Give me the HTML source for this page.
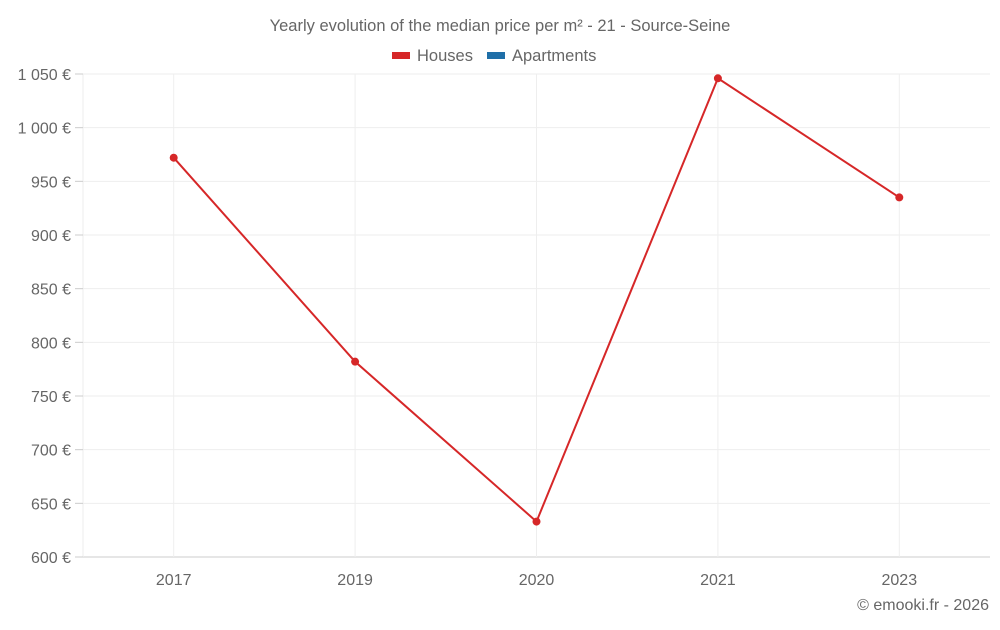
<!DOCTYPE html>
<html><head><meta charset="utf-8"><style>
body{margin:0;background:#fff;font-family:"Liberation Sans",sans-serif;}
svg text{font-family:"Liberation Sans",sans-serif;fill:#666;}
</style></head><body>
<svg width="1000" height="625">
<text x="500" y="31" text-anchor="middle" font-size="16.5">Yearly evolution of the median price per m² - 21 - Source-Seine</text>
<g>
<g><rect x="392" y="52" width="18" height="7" fill="#d62728"/><text x="417" y="61" font-size="16.5">Houses</text></g>
<g><rect x="487" y="52" width="18" height="7" fill="#1f6fa8"/><text x="512" y="61" font-size="16.5">Apartments</text></g>
</g>
<g id="grid"></g><g id="axes"></g><g id="series"></g>
<text x="989" y="610" text-anchor="end" font-size="16">© emooki.fr - 2026</text>
</svg>
<script>
const categories=["2017","2019","2020","2021","2023"];
const housesValues=[972,782,633,1046,935];
const yTicks=[600,650,700,750,800,850,900,950,1000,1050];
const yTickLabels=["600 €","650 €","700 €","750 €","800 €","850 €","900 €","950 €","1 000 €","1 050 €"];
const L=83,R=990,T=74,B=557,yMin=600,yMax=1050;
const NS="http://www.w3.org/2000/svg";
function y(v){return B-(v-yMin)/(yMax-yMin)*(B-T);}
function x(i){const bw=(R-L)/categories.length;return L+bw*(i+0.5);}
function mk(tag,attrs,parent){const e=document.createElementNS(NS,tag);for(const k in attrs)e.setAttribute(k,attrs[k]);document.getElementById(parent).appendChild(e);return e;}
yTicks.forEach((t,i)=>{
 const g=mk("line",{x1:L,x2:R,y1:y(t),y2:y(t),stroke:i==0?"#ccc":"#eee","stroke-width":1},"grid");
 
 
 const tk=mk("line",{x1:L-8,x2:L,y1:y(t),y2:y(t),stroke:"#ccc"},"axes");
 
 
 const tx=mk("text",{x:L-12,y:y(t)+6,"text-anchor":"end","font-size":"16"},"axes");
 tx.textContent=yTickLabels[i];
 
 
});
const la=mk("line",{x1:L,x2:L,y1:T,y2:B,stroke:"#eee"},"grid");


categories.forEach((c,i)=>{
 const g=mk("line",{x1:x(i),x2:x(i),y1:T,y2:B,stroke:"#eee"},"grid");
 
 
 const tx=mk("text",{x:x(i),y:B+28,"text-anchor":"middle","font-size":"16"},"axes");
 tx.textContent=c;
 
 
});
const pl=mk("polyline",{points:housesValues.map((v,i)=>x(i)+","+y(v)).join(" "),fill:"none",stroke:"#d62728","stroke-width":2},"series");


housesValues.forEach((v,i)=>{
 const c=mk("circle",{cx:x(i),cy:y(v),r:4,fill:"#d62728"},"series");
 
 
});
</script>
</body></html>
